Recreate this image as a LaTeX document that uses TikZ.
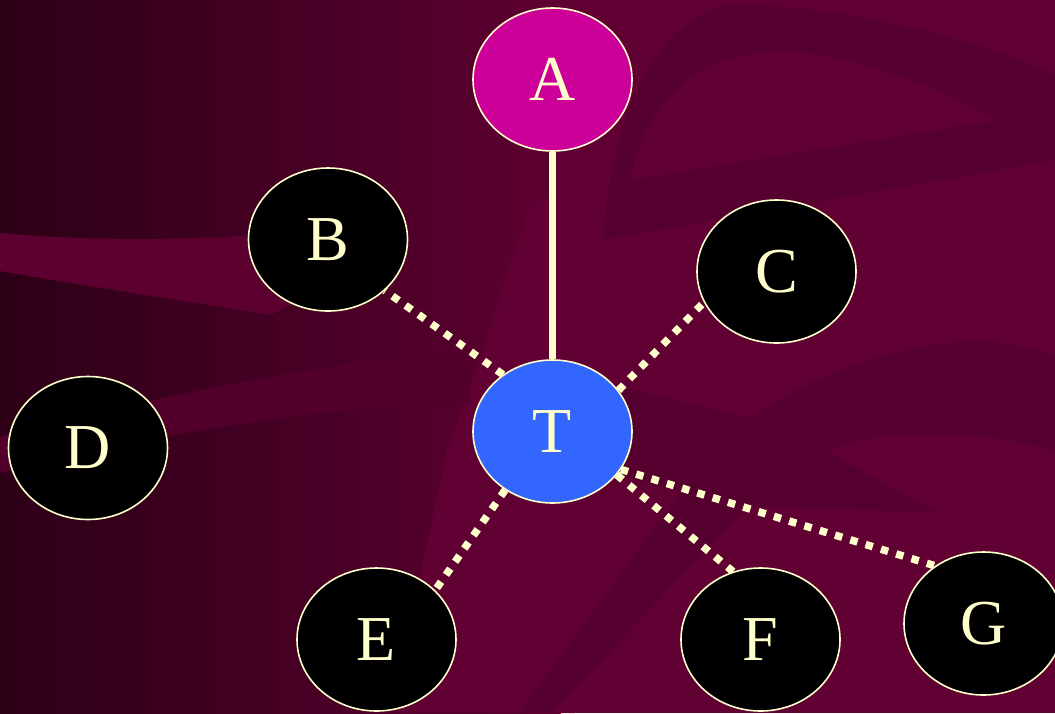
\documentclass[tikz,border=0pt]{standalone}
\usepackage{fontspec}
\setmainfont{Liberation Serif}
\usetikzlibrary{shapes.geometric}
\definecolor{cream}{HTML}{FFFFCC}
\definecolor{bgL}{HTML}{2C0016}
\definecolor{bgM}{HTML}{5E0031}
\definecolor{bgR}{HTML}{610033}
\definecolor{swdark}{HTML}{56002F}
\definecolor{bandA}{HTML}{5C002F}
\definecolor{bandB}{HTML}{52002B}
\definecolor{nodeA}{HTML}{CC0099}
\definecolor{nodeT}{HTML}{3366FF}
\pgfdeclarelayer{back}
\pgfdeclarelayer{edges}
\pgfsetlayers{back,edges,main}
\begin{document}
\begin{tikzpicture}[x=1pt,y=-1pt,
  vertex/.style={ellipse, draw=cream, line width=1.6pt, inner sep=0pt,
    minimum width=159pt, minimum height=143pt, text=cream,
    font=\fontsize{64}{64}\selectfont},
  solidlink/.style={draw=cream, line width=6.5pt},
  dotlink/.style={draw=cream, line width=7.5pt, line cap=butt,
    dash pattern=on 7.5pt off 8.5pt}]
\useasboundingbox (0,0) rectangle (1055,713);
\clip (0,0) rectangle (1055,713);

% nodes
\node[vertex, fill=nodeA] (A) at (552.5,79.5) {A};
\node[vertex, fill=black] (B) at (328,239.5) {B};
\node[vertex, fill=black] (C) at (776.5,271.5) {C};
\node[vertex, fill=black] (D) at (88,448) {D};
\node[vertex, fill=nodeT] (T) at (552.5,431.5) {T};
\node[vertex, fill=black] (E) at (376.5,639.5) {E};
\node[vertex, fill=black] (F) at (760.5,639.5) {F};
\node[vertex, fill=black] (G) at (983.5,623.5) {G};

% connectors
\begin{pgfonlayer}{edges}
  \draw[solidlink] (A.south) -- (T.north);
  \draw[dotlink] (T.131) -- (B.-42);
  \draw[dotlink] (T.32) -- (C.203);
  \draw[dotlink] (T.231) -- (E.40);
  \draw[dotlink] (T.-34) -- (F.112);
  \draw[dotlink] (T.-29) -- (G.130);
\end{pgfonlayer}

% background with swooshes
\begin{pgfonlayer}{back}
  \shade[left color=bgL, right color=bgM] (0,0) rectangle (561,713);
  \fill[bgR] (560,0) rectangle (1055,713);
  % light region below the middle
  \fill[bgR] (533,197) -- (575,197) -- (575,713) -- (395,713) -- (420,577)
    -- (447,450) -- (480,360) -- cycle;
  % upper left band
  \fill[bandA] (0,233) .. controls (100,242) and (200,240) .. (300,232)
    -- (300,300) -- (270,315) .. controls (180,300) and (80,285) .. (0,271) -- cycle;
  % lower left band
  \fill[bandB] (0,437) .. controls (60,420) and (250,375) .. (383,360)
    -- (470,352) -- (470,404) -- (350,410) .. controls (250,420) and (100,445) .. (0,473) -- cycle;
  % upper right swoosh
  \fill[swdark] (603,240) .. controls (612,120) and (650,30) .. (720,6)
    .. controls (800,0) and (960,30) .. (1055,75) -- (1055,160) -- cycle;
  \fill[bgR] (630,180) .. controls (645,100) and (700,52) .. (780,52)
    .. controls (860,52) and (950,95) .. (997,120) -- cycle;
  % lower right swoosh
  \fill[swdark] (612,385) -- (750,418) .. controls (800,385) and (880,342) .. (980,342)
    .. controls (1010,342) and (1040,350) .. (1055,357) -- (1055,452)
    .. controls (990,430) and (880,425) .. (827,452) -- (937,512) -- (747,507)
    -- (551,713) -- (519,713) -- (680,493) -- (600,470) -- cycle;
\end{pgfonlayer}
\end{tikzpicture}
\end{document}
